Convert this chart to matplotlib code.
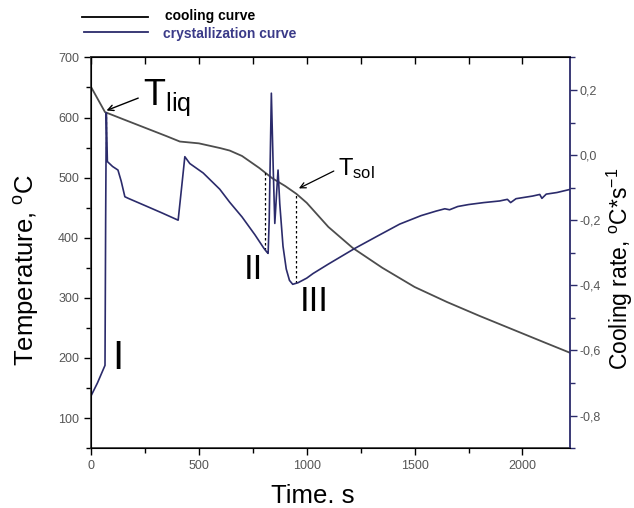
import matplotlib
matplotlib.use("Agg")
import matplotlib.pyplot as plt
import numpy as np
from matplotlib.lines import Line2D
from matplotlib.ticker import FuncFormatter, MultipleLocator, NullFormatter

plt.rcParams["font.family"] = ["Liberation Sans", "DejaVu Sans"]
plt.rcParams["mathtext.fontset"] = "custom"
plt.rcParams["mathtext.rm"] = "Liberation Sans"
plt.rcParams["mathtext.it"] = "Liberation Sans:italic"
plt.rcParams["mathtext.bf"] = "Liberation Sans:bold"

# cooling curve: temperature (left axis)
t_cool = [0, 65, 150, 250, 350, 412, 500, 600, 643, 700, 780, 840, 900, 952,
          1000, 1100, 1213, 1350, 1500, 1650, 1800, 1950, 2100, 2217]
T_cool = [651, 609, 597, 583, 569, 560, 557, 549, 545, 536, 516, 499, 486, 473,
          458, 418, 383, 350, 318, 293, 270, 248, 226, 209]

# crystallization curve: cooling rate (right axis)
t_cryst = [0, 30, 65, 68, 71, 76, 100, 125, 140, 157, 173, 250, 330, 404, 420,
           435, 458, 520, 597, 643, 700, 760, 800, 815, 821, 826, 836, 845,
           852, 860, 867, 875, 890, 905, 920, 935, 960, 1000, 1029, 1100, 1222,
           1330, 1431, 1530, 1600, 1640, 1662, 1700, 1750, 1820, 1894, 1930,
           1945, 1970, 2046, 2080, 2090, 2110, 2160, 2217]
r_cryst = [-0.74, -0.70, -0.646, -0.2, 0.13, -0.02, -0.035, -0.046, -0.08,
           -0.128, -0.133, -0.155, -0.178, -0.2, -0.10, -0.005, -0.026, -0.055,
           -0.105, -0.145, -0.19, -0.245, -0.285, -0.298, -0.302, -0.2, 0.19,
           -0.05, -0.21, -0.12, -0.046, -0.15, -0.28, -0.35, -0.385, -0.397,
           -0.392, -0.378, -0.364, -0.335, -0.287, -0.248, -0.212, -0.186,
           -0.172, -0.165, -0.168, -0.158, -0.152, -0.146, -0.141, -0.136,
           -0.146, -0.134, -0.126, -0.121, -0.133, -0.12, -0.115, -0.106]

# dotted markers (T_liq, II, T_sol)
t_marks = [70, 806, 952]

c_cool = "#4d4d4d"
c_cryst = "#2b2b6b"
c_tick = "#555555"

fig = plt.figure(figsize=(6.34, 5.08), dpi=100)
ax = fig.add_axes([0.1435, 0.118, 0.7555, 0.769])
ax2 = ax.twinx()

ax.plot(t_cool, T_cool, color=c_cool, lw=1.3)
ax2.plot(t_cryst, r_cryst, color=c_cryst, lw=1.2)

ax.set_xlim(0, 2220)
ax.set_ylim(50, 700)
ax2.set_ylim(-0.9, 0.3)


def rate_to_temp(r):
    lo, hi = ax2.get_ylim()
    tlo, thi = ax.get_ylim()
    return tlo + (r - lo) / (hi - lo) * (thi - tlo)


for tm in t_marks:
    top = np.interp(tm, t_cool, T_cool)
    bot = rate_to_temp(np.interp(tm, t_cryst, r_cryst))
    ax.plot([tm, tm], [bot, top], color="black", lw=0.9, ls=(0, (2, 2)))

# annotations
ax.annotate("", xy=(60, 610), xytext=(231, 634),
            arrowprops=dict(arrowstyle="->", color="black", lw=1.0))
ax.text(240, 620, r"$\mathregular{T_{liq}}$", fontsize=26, ha="left", va="baseline")
ax.annotate("", xy=(952, 480), xytext=(1137, 513),
            arrowprops=dict(arrowstyle="->", color="black", lw=0.9))
ax.text(1143, 504, r"$\mathregular{T_{sol}}$", fontsize=17, ha="left", va="baseline")
ax.text(125, 200, "I", fontsize=29, ha="center", va="center")
ax.text(751, 347, "II", fontsize=25, ha="center", va="center")
ax.text(1033, 294, "III", fontsize=25, ha="center", va="center")

# ticks
ax.xaxis.set_major_locator(MultipleLocator(500))
ax.xaxis.set_minor_locator(MultipleLocator(250))
ax.yaxis.set_major_locator(MultipleLocator(100))
ax.yaxis.set_minor_locator(MultipleLocator(50))
ax2.yaxis.set_major_locator(MultipleLocator(0.2))
ax2.yaxis.set_minor_locator(MultipleLocator(0.1))
ax2.yaxis.set_major_formatter(FuncFormatter(lambda v, p: f"{v:.1f}".replace(".", ",").replace("-0,0", "0,0")))

ax.tick_params(axis="both", which="both", direction="out", labelsize=9, labelcolor=c_tick, width=1.0)
ax.tick_params(which="major", length=5)
ax.tick_params(which="minor", length=3.5)

top = ax.secondary_xaxis("top")
top.xaxis.set_major_locator(MultipleLocator(250))
top.xaxis.set_major_formatter(NullFormatter())
top.tick_params(direction="in", length=5, width=1.0)
top.spines["top"].set_linewidth(1.2)
top.spines["top"].set_color("#333333")

ax2.tick_params(axis="y", which="both", direction="out", labelsize=9, labelcolor=c_tick,
                color=c_cryst, width=1.0, pad=2)
ax2.tick_params(which="major", length=5)
ax2.tick_params(which="minor", length=3.5)

for s in ["left", "bottom", "top"]:
    ax.spines[s].set_linewidth(1.2)
    ax.spines[s].set_color("#333333")
ax2.spines["right"].set_color(c_cryst)
ax2.spines["right"].set_linewidth(1.3)
ax.spines["right"].set_visible(False)

ax.set_xlabel("Time. s", fontsize=18.5)
ax.xaxis.set_label_coords(0.462, -0.093)
ax.set_ylabel(r"Temperature, $\mathregular{^oC}$", fontsize=18.5)
ax.yaxis.set_label_coords(-0.105, 0.455)
ax2.set_ylabel(r"Cooling rate, $\mathregular{^oC{*}s^{-1}}$", fontsize=16.5)
ax2.yaxis.set_label_coords(1.072, 0.46)

# legend drawn above the axes
fig.add_artist(Line2D([82 / 634, 148 / 634], [1 - 17 / 508, 1 - 17 / 508], color="black", lw=1.3))
fig.add_artist(Line2D([84 / 634, 148 / 634], [1 - 32 / 508, 1 - 32 / 508], color=c_cryst, lw=1.3))
fig.text(165 / 634, 1 - 16 / 508, "cooling curve", fontsize=10, fontweight="bold",
         color="black", va="center")
fig.text(163 / 634, 1 - 34 / 508, "crystallization curve", fontsize=10, fontweight="bold",
         color="#3a3a88", va="center")

fig.savefig("out.png", dpi=100)
